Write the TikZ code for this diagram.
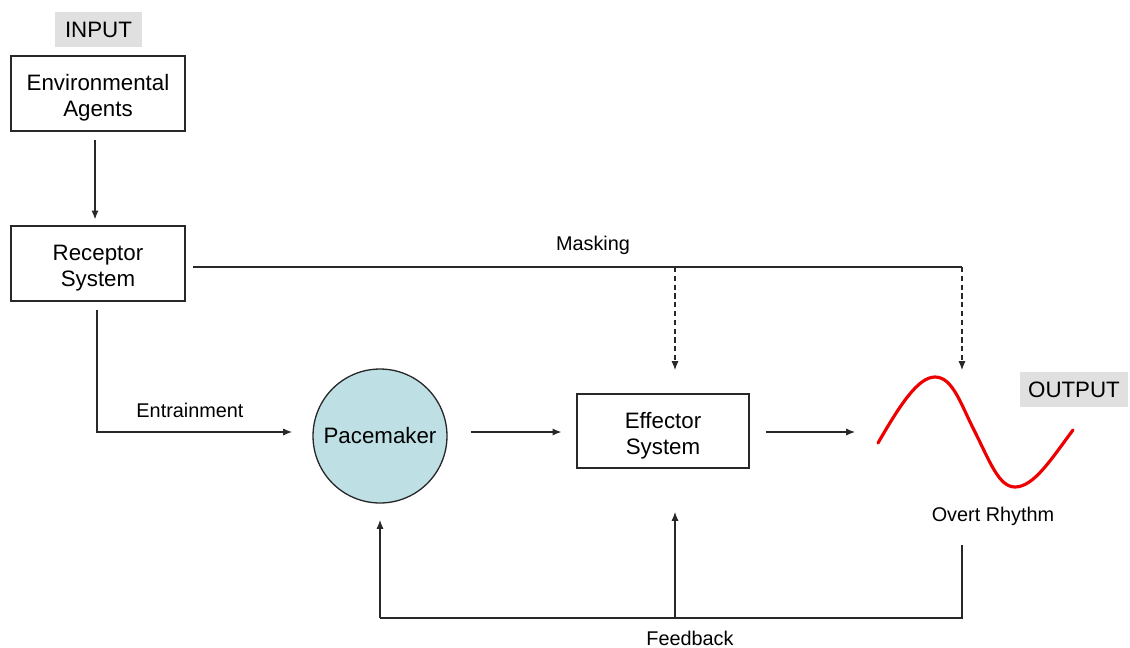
\documentclass[tikz,border=0pt]{standalone}
\usepackage{fontspec}
\setmainfont{Liberation Sans}
\usetikzlibrary{arrows.meta}
\definecolor{labelgray}{RGB}{224,224,224}
\definecolor{pacefill}{RGB}{190,224,228}
\definecolor{wavered}{RGB}{238,0,0}
\definecolor{linegray}{RGB}{40,40,40}
\newcommand\myloweringstrut{\rule{0pt}{14.5pt}}
\tikzset{
  big/.style={font=\fontsize{12.7}{14.8}\selectfont},
  small/.style={font=\fontsize{11.3}{13}\selectfont},
  box/.style={draw=linegray, line width=0.75pt, minimum width=3.48cm, minimum height=1.5cm, align=center, big, inner sep=0pt},
  tag/.style={fill=labelgray, big, minimum height=0.7cm, inner sep=0pt},
  conn/.style={draw=linegray, line width=0.6pt},
  arr/.style={conn, -{Latex[length=5pt,width=4pt]}},
  dasharr/.style={arr, dash pattern=on 3pt off 2pt}
}
\begin{document}
\begin{tikzpicture}[x=0.02cm,y=-0.02cm]
\useasboundingbox (0,0) rectangle (1130,647);
% nodes
\node[tag, minimum width=1.74cm] (input) at (98.5,29.5) {INPUT};
\node[box] (env) at (98,93.5) {\myloweringstrut Environmental\\Agents};
\node[box] (rec) at (98,263.5) {\myloweringstrut Receptor\\System};
\node[circle, draw=linegray, line width=0.75pt, fill=pacefill, minimum size=2.68cm, inner sep=0pt, big] (pace) at (380,436) {Pacemaker};
\node[box, minimum width=3.44cm, minimum height=1.48cm] (eff) at (663,431) {\myloweringstrut Effector\\System};
\node[tag, minimum width=2.16cm] (output) at (1074,389.5) {OUTPUT};
\node[small] (overt) at (993,516) {Overt Rhythm};
\node[small] (masklbl) at (593,245) {Masking};
\node[small] (entlbl) at (190,410) {Entrainment};
\node[small] (fblbl) at (690,638) {Feedback};
% coordinates
\coordinate (mL) at (193,267);
\coordinate (mE) at (675,267);
\coordinate (mR) at (962,267);
\coordinate (eTop) at (675,370);
\coordinate (wTop) at (962,370);
\coordinate (rIn) at (855,432);
\coordinate (fR) at (962,545);
\coordinate (fBR) at (962,618);
\coordinate (fM) at (675,618);
\coordinate (fBL) at (380,618);
\coordinate (pIn) at (380,520);
\coordinate (eIn) at (675,512);
\coordinate (entS) at (97,310);
\coordinate (entE) at (292,432);
% connectors
\draw[arr] ([shift={(-3,8)}]env.south) -- ([shift={(-3,-6)}]rec.north);
\draw[conn] (mL) -- (mR);
\draw[dasharr] (mE) -- (eTop);
\draw[dasharr] (mR) -- (wTop);
\draw[arr] (entS) |- (entE);
\draw[arr] ([shift={(23,-4)}]pace.east) -- ([shift={(-15,1)}]eff.west);
\draw[arr] ([shift={(16,1)}]eff.east) -- (rIn);
\draw[conn] (fR) -- (fBR) -- (fBL);
\draw[arr] (fBL) -- (pIn);
\draw[arr] (fM) -- (eIn);
% overt rhythm wave
\draw[wavered, line width=1.8pt, line cap=round]
  (878,443) .. controls (900,405) and (918,377) .. (935,377)
  .. controls (953,377) and (961,405) .. (975,432)
  .. controls (990,462) and (999,487) .. (1015,487)
  .. controls (1034,487) and (1052,458) .. (1073,430);
\end{tikzpicture}
\end{document}
